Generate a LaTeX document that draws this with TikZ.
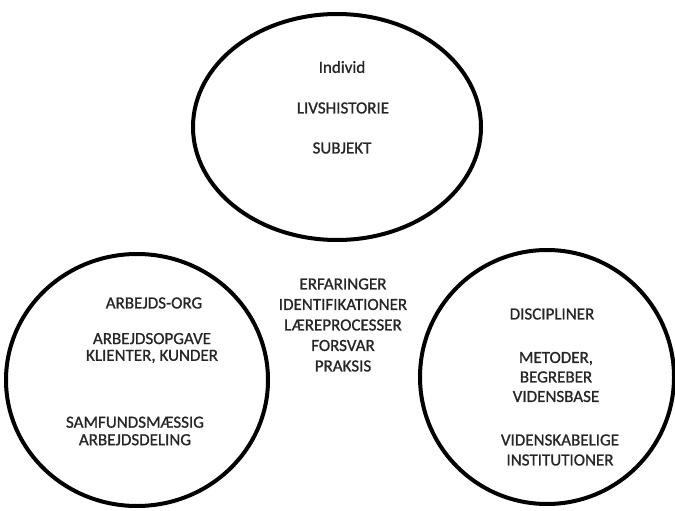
\documentclass[tikz,border=0pt]{standalone}
\usepackage{fontspec}
\setmainfont{Carlito}[FakeBold=1]
\usepackage{tikz}
\usetikzlibrary{positioning,shapes.geometric}

\begin{document}
\begin{tikzpicture}[
    x=1pt, y=-1pt,
    ring/.style={ellipse, draw=black, line width=4pt, inner sep=0pt},
    txt/.style={align=center, inner sep=0pt, text=black!85, font=\fontsize{17}{19}\selectfont}
]
\useasboundingbox (0,0) rectangle (675,511);

% Individ
\node[ring, minimum width=288, minimum height=226] (top) at (337,127) {};
\node[txt] (individ) at (342,67) {Individ};
\node[txt] (livs) at (343,108) {LIVSHISTORIE};
\node[txt] (subjekt) at (342,148) {SUBJEKT};

% Arbejde
\node[ring, minimum width=262, minimum height=252] (left) at (137,380) {};
\node[txt] (org) at (154,303) {ARBEJDS-ORG};
\node[txt, font=\fontsize{17}{16.7}\selectfont] (opgave) at (152,348) {ARBEJDSOPGAVE\\KLIENTER, KUNDER};
\node[txt, font=\fontsize{17}{17.5}\selectfont] (samfund) at (135,431) {SAMFUNDSMÆSSIG\\ARBEJDSDELING};

% Midten
\node[txt, font=\fontsize{17}{20.5}\selectfont] (erfaring) at (343,325) {ERFARINGER\\IDENTIFIKATIONER\\LÆREPROCESSER\\FORSVAR\\PRAKSIS};

% Viden
\node[ring, minimum width=254, minimum height=254] (right) at (547,377) {};
\node[txt] (disc) at (552,314) {DISCIPLINER};
\node[txt, font=\fontsize{17}{19.5}\selectfont] (metode) at (556,377) {METODER,\\BEGREBER\\VIDENSBASE};
\node[txt, font=\fontsize{17}{20}\selectfont] (inst) at (560,450) {VIDENSKABELIGE\\INSTITUTIONER};

\end{tikzpicture}
\end{document}
